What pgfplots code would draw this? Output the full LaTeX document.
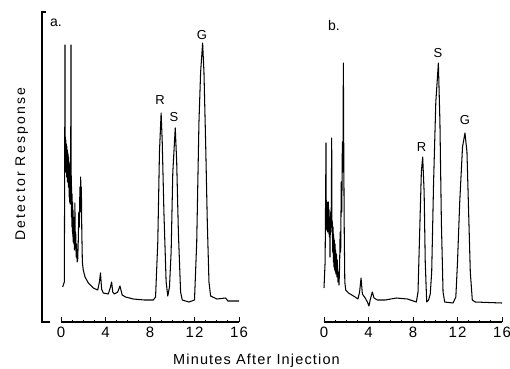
\documentclass[border=0pt]{standalone}
\usepackage{fontspec}
\setmainfont{Liberation Sans}
\newfontfamily\tickf[LetterSpace=8]{Liberation Sans}
\newfontfamily\labf[LetterSpace=8]{Liberation Sans}
\newfontfamily\ylabf[LetterSpace=16]{Liberation Sans}
\usepackage{pgfplots}
\pgfplotsset{compat=1.18}
\pgfplotsset{chrom/.style={
  scale only axis, width=178pt, height=310pt,
  xmin=0, xmax=16, ymin=0, ymax=310,
  axis lines*=left,
  x axis line style={-, line width=1.1pt, black},
  y axis line style={draw=none},
  xtick={0,4,8,12,16}, minor x tick num=3,
  xtick align=inside,
  major tick length=5pt, minor tick length=2.5pt,
  every tick/.style={black, line width=1pt},
  ytick=\empty,
  tick label style={font=\tickf\fontsize{15}{15}\selectfont},
  xticklabel style={yshift=-1.5pt, inner xsep=0pt},
  /pgf/number format/assume math mode=true,
  clip=false,
}}
\tikzset{trace/.style={black, line width=1.05pt, line join=round, no marks}}
\begin{document}
\begin{tikzpicture}[x=1pt,y=1pt]
\path[use as bounding box] (0,0) rectangle (510,368);
% ---------- panel a ----------
\begin{axis}[chrom, at={(61pt,46pt)}, anchor=south west]
\addplot[trace] coordinates {
(0.15,35)(0.3,40)(0.36,277)(0.38,160)(0.40,185)(0.42,150)(0.44,182)(0.46,155)(0.48,178)
(0.50,145)(0.52,176)(0.54,150)(0.56,172)(0.58,140)(0.60,170)(0.62,148)(0.64,168)(0.66,135)
(0.68,165)(0.70,140)(0.72,160)(0.74,125)(0.76,158)(0.78,120)(0.80,150)(0.82,118)(0.84,145)
(0.86,125)(0.9,277)(0.92,140)(0.94,105)(0.96,135)(0.98,95)(1.0,128)(1.02,90)(1.04,120)
(1.06,85)(1.08,112)(1.10,80)(1.12,105)(1.15,78)(1.18,100)(1.21,72)(1.25,119)(1.28,75)
(1.32,90)(1.36,65)(1.40,78)(1.45,60)(1.5,62)(1.55,80)(1.6,110)(1.65,95)(1.7,135)(1.73,120)
(1.77,145)(1.8,110)(1.83,135)(1.87,90)(1.92,60)(2.0,52)(2.16,45)(2.46,39)(2.9,34)(3.3,32)
(3.45,40)(3.55,49)(3.65,33)
(3.8,29)(4.25,28)(4.45,35)(4.55,40)(4.65,30)(4.8,28)(5.1,30)(5.3,36)(5.5,27)(5.8,25)
(6.5,23)(7.5,22)(8.3,22)(8.5,25)(8.7,80)(8.85,170)(9.0,209)(9.1,180)(9.25,110)(9.45,40)
(9.6,26)(9.75,35)(9.9,70)(10.05,150)(10.27,194)(10.4,160)(10.55,90)(10.75,30)(10.9,22)
(11.5,20)(12.0,22)(12.2,80)(12.4,200)(12.55,250)(12.73,279)(12.85,250)(13.0,180)
(13.15,100)(13.3,40)(13.45,26)(14,23)(14.8,24)(15,21)(16,21)
};
\draw[line width=1.1pt] (axis cs:-1.0,0) -- (axis cs:-1.71,0) -- (axis cs:-1.71,310) -- (axis cs:-1.35,310);
\node[font=\fontsize{14}{14}\selectfont] at (axis cs:-0.45,299) {a.};
\node[font=\fontsize{13}{13}\selectfont] at (axis cs:8.9,222) {R};
\node[font=\fontsize{13}{13}\selectfont] at (axis cs:10.16,205) {S};
\node[font=\fontsize{13}{13}\selectfont] at (axis cs:12.67,287) {G};
\end{axis}
% ---------- panel b ----------
\begin{axis}[chrom, at={(324pt,46pt)}, anchor=south west]
\addplot[trace] coordinates {
(0.0,34)(0.1,60)(0.18,179)(0.2,95)(0.22,122)(0.24,92)(0.26,120)(0.28,94)(0.30,118)(0.32,90)
(0.34,116)(0.36,95)(0.38,120)(0.40,92)(0.42,115)(0.44,88)(0.46,112)(0.48,85)(0.50,105)
(0.54,65)(0.57,100)(0.60,110)(0.63,95)(0.66,120)(0.69,184)(0.72,90)(0.75,100)(0.78,70)
(0.81,95)(0.84,60)(0.87,88)(0.90,55)(0.93,82)(0.96,52)(0.99,78)(1.02,50)(1.05,72)(1.08,48)
(1.12,68)(1.16,45)(1.2,62)(1.25,40)(1.3,50)(1.35,37)(1.4,55)(1.45,90)(1.5,70)(1.55,140)
(1.6,110)(1.65,180)(1.7,150)(1.74,259)(1.78,160)(1.82,90)
(1.87,40)(1.95,32)(2.2,29)(2.5,27)(2.8,25)(3.05,23)(3.2,30)(3.33,44)(3.45,28)(3.7,24)
(3.9,20)(4.04,16)(4.15,22)(4.34,30)(4.5,24)(4.8,22)(5.5,22)(6.5,24)(7.5,23)(8.3,20)
(8.45,30)(8.6,90)(8.75,150)(8.87,165)(9.0,130)(9.1,60)(9.23,20)(9.4,22)(9.55,28)(9.68,50)
(9.85,140)(10.05,220)(10.28,259)(10.42,200)(10.55,100)(10.7,30)(10.85,20)(11.6,19)
(11.85,25)(12.0,60)(12.2,120)(12.45,175)(12.67,189)(12.85,170)(13.0,110)(13.15,50)
(13.33,22)(13.6,20)(16,19)
};
\node[font=\fontsize{14}{14}\selectfont] at (axis cs:0.9,297) {b.};
\node[font=\fontsize{13}{13}\selectfont] at (axis cs:8.78,175) {R};
\node[font=\fontsize{13}{13}\selectfont] at (axis cs:10.25,269) {S};
\node[font=\fontsize{13}{13}\selectfont] at (axis cs:12.67,202) {G};
\end{axis}
\node[rotate=90, anchor=base, font=\ylabf\fontsize{14}{14}\selectfont] at (25,204) {Detector Response};
\node[anchor=base, font=\labf\fontsize{14.5}{14.5}\selectfont] at (256.5,4) {Minutes After Injection};
\end{tikzpicture}
\end{document}
